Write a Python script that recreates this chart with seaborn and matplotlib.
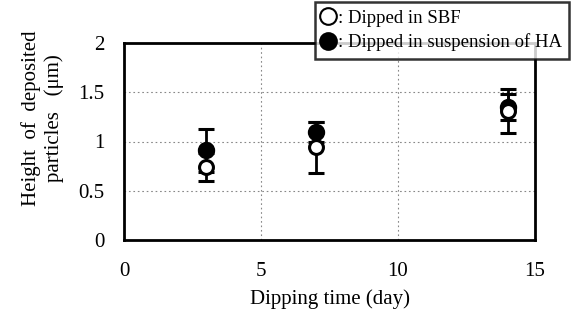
import matplotlib
matplotlib.use("Agg")
import matplotlib.pyplot as plt
import seaborn as sns
import pandas as pd
from matplotlib.lines import Line2D

days = [3, 7, 14]
sbf_mean = [0.74, 0.94, 1.31]
sbf_err = [0.14, 0.26, 0.22]
ha_mean = [0.91, 1.10, 1.35]
ha_err = [0.22, 0.10, 0.13]
labels = [": Dipped in SBF", ": Dipped in suspension of HA"]

sns.set_theme(style="white")
plt.rcParams['font.family'] = ['Liberation Serif', 'DejaVu Serif']

fig = plt.figure(figsize=(5.71, 3.22), dpi=100)
ax = fig.add_axes([124/571, 1-240/322, (535-124)/571, (240-43)/322])

df = pd.DataFrame({
    "day": days * 2,
    "height": ha_mean + sbf_mean,
    "err": ha_err + sbf_err,
    "group": ["HA"] * 3 + ["SBF"] * 3,
})

for g in ["HA", "SBF"]:
    d = df[df.group == g]
    ax.errorbar(d.day, d.height, yerr=d.err, fmt="none", ecolor="black",
                elinewidth=2, capsize=6, capthick=2.2, zorder=2)

sns.scatterplot(data=df[df.group == "HA"], x="day", y="height", ax=ax,
                color="black", edgecolor="black", s=110, linewidth=2, zorder=3, legend=False)
sns.scatterplot(data=df[df.group == "SBF"], x="day", y="height", ax=ax,
                color="white", edgecolor="black", s=100, linewidth=2.2, zorder=4, legend=False)

ax.set_xlim(0, 15)
ax.set_ylim(0, 2)
ax.set_xticks([0, 5, 10, 15])
ax.set_yticks([0, 0.5, 1, 1.5, 2])
ax.set_xticklabels(["0", "5", "10", "15"])
ax.set_yticklabels(["0", "0.5", "1", "1.5", "2"])
ax.tick_params(axis="both", length=0, labelsize=15, colors="black")
ax.tick_params(axis="x", pad=16)
ax.tick_params(axis="y", pad=14)
ax.grid(True, color="#888888", linestyle=(0, (1.5, 2.5)), linewidth=0.8)
ax.set_axisbelow(True)
for s in ax.spines.values():
    s.set_color("black")
    s.set_linewidth(2)

ax.set_xlabel("Dipping time (day)", fontsize=15, color="black", labelpad=6)
ax.set_ylabel("Height  of  deposited\nparticles   (μm)", fontsize=15, color="black",
              linespacing=1.25)
ax.yaxis.set_label_coords((64 - 124) / 411, (240 - 118) / 197)

handles = [
    Line2D([], [], marker="o", linestyle="none", markerfacecolor="white",
           markeredgecolor="black", markersize=12, markeredgewidth=1.5),
    Line2D([], [], marker="o", linestyle="none", markerfacecolor="black",
           markeredgecolor="black", markersize=12, markeredgewidth=1.5),
]
leg = fig.legend(handles, labels, loc="upper left", bbox_to_anchor=(315/571, 1-2/322),
                 frameon=True, fancybox=False, edgecolor="black", fontsize=13.5,
                 handlelength=0.6, handletextpad=0.2, borderpad=0.4,
                 labelspacing=0.35, borderaxespad=0)
leg.get_frame().set_linewidth(1.8)
for t in leg.get_texts():
    t.set_color("black")

fig.savefig("out.png", dpi=100, facecolor="white")
